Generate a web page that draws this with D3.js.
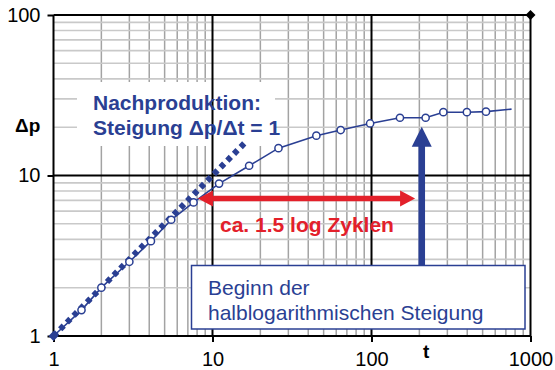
<!DOCTYPE html>
<html>
<head>
<meta charset="utf-8">
<script src="https://cdn.jsdelivr.net/npm/d3@7"></script>
<style>
  body { margin: 0; background: #fff; }
  svg { display: block; font-family: "Liberation Sans", Arial, sans-serif; }
</style>
</head>
<body>
<div id="chart"></div>
<script>
// measured pressure points (open circles)
var measT = [1.5, 2, 3, 4.1, 5.5, 7.6, 11, 17, 26, 45, 64, 98, 151, 219, 283, 398, 525];
var measP = [1.45, 2.0, 2.9, 3.9, 5.3, 6.8, 8.9, 11.5, 14.8, 17.7, 19.2, 21.1, 22.9, 22.9, 24.8, 24.8, 25.0];
// curve runs from the origin point to a last value after the final circle
var curveStartT = [1], curveStartP = [1];
var curveEndT = [760], curveEndP = [25.9];
// unit slope line (wellbore storage)
var slopeT = [1, 16];
var slopeP = [1, 16];
// corner marker
var cornerT = [1000], cornerP = [100];
// annotations
var redArrowT = [8.1, 188], redArrowP = 7.2;
var blueArrowT = 207, blueArrowP = 20.1;

var xTicks = [1, 10, 100, 1000];
var yTicks = [1, 10, 100];

var blue = "#2a3f93", red = "#e3202a";
var W = 555, H = 370;
var x = d3.scaleLog().domain([1, 1000]).range([53.5, 530.5]);
var y = d3.scaleLog().domain([1, 100]).range([336, 15]);

var svg = d3.select("#chart").append("svg").attr("width", W).attr("height", H);

// minor grid
var minorX = [], minorY = [];
[1, 10, 100].forEach(function(d) {
    for (var k = 2; k <= 9; k++) { minorX.push(d * k); if (d < 100) minorY.push(d * k); }
});
svg.selectAll("line.mx").data(minorX).enter().append("line")
    .attr("x1", function(d) { return x(d); }).attr("x2", function(d) { return x(d); })
    .attr("y1", y(1)).attr("y2", y(100))
    .attr("stroke", "#a3a3a3").attr("stroke-width", 1.5);
svg.selectAll("line.my").data(minorY).enter().append("line")
    .attr("x1", x(1)).attr("x2", x(1000))
    .attr("y1", function(d) { return y(d); }).attr("y2", function(d) { return y(d); })
    .attr("stroke", "#c9c9c9").attr("stroke-width", 1.6);

// white backing behind the top label
svg.append("rect").attr("x", 77).attr("y", 82).attr("width", 198).attr("height", 64).attr("fill", "#fff");

// major grid / frame
svg.selectAll("line.Mx").data(xTicks).enter().append("line")
    .attr("x1", function(d) { return x(d); }).attr("x2", function(d) { return x(d); })
    .attr("y1", y(1)).attr("y2", y(100))
    .attr("stroke", "#000").attr("stroke-width", 2);
svg.selectAll("line.My").data(yTicks).enter().append("line")
    .attr("x1", x(1)).attr("x2", x(1000))
    .attr("y1", function(d) { return y(d); }).attr("y2", function(d) { return y(d); })
    .attr("stroke", "#000").attr("stroke-width", 2);

// axes
var yAxis = svg.append("g").attr("transform", "translate(" + x(1) + ",0)")
    .call(d3.axisLeft(y).tickValues(yTicks).tickSize(6).tickPadding(7).tickFormat(d3.format("d")));
var xAxis = svg.append("g").attr("transform", "translate(0," + y(1) + ")")
    .call(d3.axisBottom(x).tickValues(xTicks).tickSize(6).tickPadding(10).tickFormat(d3.format("d")));
[xAxis, yAxis].forEach(function(g) {
    g.select(".domain").remove();
    g.selectAll(".tick line").attr("stroke", "#000").attr("stroke-width", 2);
    g.selectAll(".tick text").attr("fill", "#000").style("font-size", "20px")
        .style("font-family", "'Liberation Sans', Arial, sans-serif");
});

// axis titles
svg.append("text").attr("x", 15).attr("y", 132).attr("font-size", 19).attr("font-weight", "bold").text("\u0394p");
svg.append("text").attr("x", 423).attr("y", 358).attr("font-size", 19).attr("font-weight", "bold").text("t");

// slope-1 dotted line
svg.append("path")
    .attr("d", d3.line().x(function(d) { return x(d[0]); }).y(function(d) { return y(d[1]); })(d3.zip(slopeT, slopeP)))
    .attr("fill", "none").attr("stroke", blue).attr("stroke-width", 6).attr("stroke-dasharray", "5,4.5");

// diamond markers
var diamond = d3.symbol().type(d3.symbolDiamond2).size(64);
svg.selectAll("path.dia").data(d3.zip(curveStartT.concat(cornerT), curveStartP.concat(cornerP))).enter().append("path")
    .attr("d", diamond)
    .attr("transform", function(d) { return "translate(" + x(d[0]) + "," + y(d[1]) + ")"; })
    .attr("fill", function(d, i) { return i === 0 ? blue : "#000"; });

// measured curve
var curveT = curveStartT.concat(measT, curveEndT);
var curveP = curveStartP.concat(measP, curveEndP);
svg.append("path")
    .attr("d", d3.line().x(function(d) { return x(d[0]); }).y(function(d) { return y(d[1]); })(d3.zip(curveT, curveP)))
    .attr("fill", "none").attr("stroke", blue).attr("stroke-width", 1.6);
svg.selectAll("circle.pt").data(d3.zip(measT, measP)).enter().append("circle")
    .attr("cx", function(d) { return x(d[0]); }).attr("cy", function(d) { return y(d[1]); })
    .attr("r", 3.6).attr("fill", "#fff").attr("stroke", blue).attr("stroke-width", 1.5);

// top label
svg.append("text").attr("x", 93).attr("y", 110).attr("font-size", 21).attr("font-weight", "bold")
    .attr("fill", blue).text("Nachproduktion:");
svg.append("text").attr("x", 93).attr("y", 135).attr("font-size", 21).attr("font-weight", "bold")
    .attr("fill", blue).text("Steigung \u0394p/\u0394t = 1");

// red double arrow
var ry = y(redArrowP), rx1 = x(redArrowT[0]), rx2 = x(redArrowT[1]);
svg.append("line").attr("x1", rx1 + 12).attr("x2", rx2 - 12).attr("y1", ry).attr("y2", ry)
    .attr("stroke", red).attr("stroke-width", 5.5);
svg.append("path").attr("fill", red)
    .attr("d", "M" + rx1 + "," + ry + "l15,-8l0,16z M" + rx2 + "," + ry + "l-15,-8l0,16z");
svg.append("text").attr("x", 220).attr("y", 232).attr("font-size", 21).attr("font-weight", "bold")
    .attr("fill", red).text("ca. 1.5 log Zyklen");

// blue arrow and box
var bx = x(blueArrowT), by = y(blueArrowP);
var box = { x: 191.5, y: 265.5, w: 333.5, h: 63.5 };
svg.append("rect").attr("x", bx - 3.3).attr("y", by + 18).attr("width", 6.6).attr("height", box.y - by - 18).attr("fill", blue);
svg.append("path").attr("fill", blue).attr("d", "M" + bx + "," + by + "l10,20l-20,0z");
svg.append("rect").attr("x", box.x).attr("y", box.y).attr("width", box.w).attr("height", box.h)
    .attr("fill", "#fff").attr("stroke", blue).attr("stroke-width", 1.5);
svg.append("text").attr("x", 208).attr("y", 295).attr("font-size", 21).attr("fill", blue).text("Beginn der");
svg.append("text").attr("x", 208).attr("y", 320).attr("font-size", 21).attr("fill", blue).text("halblogarithmischen Steigung");
</script>
</body>
</html>
